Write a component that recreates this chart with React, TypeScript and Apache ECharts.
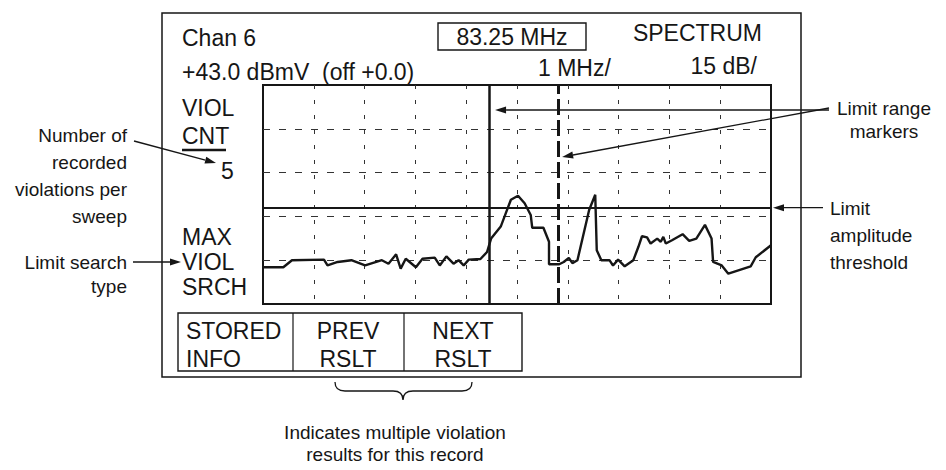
import React, { useEffect, useRef } from "react";
import * as echarts from "echarts";

// Spectrum trace: horizontal position (% of span) and level (dB below the reference level)
const traceX = [0, 4.0, 5.7, 12.0, 12.7, 14.7, 17.4, 20.1, 23.4, 24.7, 26.2, 27.1, 28.1, 30.1, 31.4, 33.8, 34.8, 36.1, 37.5, 38.5, 39.5, 40.5, 42.8, 44.1, 44.9, 46.8, 47.8, 48.8, 50.2, 51.5, 52.7, 53.0, 55.2, 56.3, 56.3, 58.3, 59.2, 60.2, 60.9, 61.9, 64.2, 65.4, 65.7, 66.6, 68.2, 68.9, 69.9, 71.2, 72.9, 73.9, 74.6, 75.6, 76.3, 77.6, 78.3, 78.8, 79.3, 80.6, 82.6, 83.9, 85.3, 87.0, 88.3, 88.6, 90.3, 91.6, 96.0, 97.0, 100];
const traceY = [-62.4, -62.4, -60.0, -59.8, -61.8, -60.6, -60.0, -61.8, -60.0, -61.2, -58.0, -62.9, -59.5, -62.4, -59.5, -59.1, -61.8, -58.7, -61.2, -60.0, -61.8, -59.8, -59.6, -57.2, -52.6, -48.5, -43.9, -39.3, -37.9, -40.5, -44.5, -48.9, -48.9, -53.7, -61.4, -61.4, -60.6, -59.2, -61.0, -60.0, -42.8, -37.6, -56.6, -60.0, -60.0, -61.8, -59.8, -62.1, -60.0, -55.4, -51.8, -52.2, -54.3, -52.6, -53.7, -52.0, -54.3, -53.1, -51.1, -53.4, -52.6, -47.9, -52.6, -60.6, -61.8, -64.6, -62.1, -59.0, -54.9];
const limitThreshold = -42;
const limitMarkers = [44.5, 58.1];
const xMin = 0, xMax = 100, xStep = 10;
const yMin = -75, yMax = 0, yStep = 15;

const headerLeft = ["Chan 6", "+43.0 dBmV  (off +0.0)"];
const headerFreq = "83.25 MHz";
const headerMode = "SPECTRUM";
const scaleLabels = ["1 MHz/", "15 dB/"];
const violLabels = ["VIOL", "CNT"];
const violCount = "5";
const searchLabels = ["MAX", "VIOL", "SRCH"];
const softKeys = [["STORED", "INFO"], ["PREV", "RSLT"], ["NEXT", "RSLT"]];
const noteCount = ["Number of", "recorded", "violations per", "sweep"];
const noteSearch = ["Limit search", "type"];
const noteMarkers = ["Limit range", "markers"];
const noteThreshold = ["Limit", "amplitude", "threshold"];
const noteMultiple = ["Indicates multiple violation", "results for this record"];

const FONT = '"Liberation Sans", Arial, Helvetica, sans-serif';
const INK = "#161616";

echarts.graphic.registerShape(
  "brace",
  echarts.graphic.extendPath("M0 0 Q0 9 10 9 L58 9 Q68 9 68 18 Q68 9 78 9 L127 9 Q137 9 137 0", {})
);

function txt(text: string, x: number, y: number, size: number, align = "left") {
  return {
    type: "text",
    x,
    y,
    silent: true,
    style: {
      text,
      font: `${size}px ${FONT}`,
      fill: INK,
      align,
      textAlign: align,
      verticalAlign: "middle",
      textVerticalAlign: "middle",
    },
  };
}

function arrow(x1: number, y1: number, x2: number, y2: number) {
  const a = Math.atan2(y2 - y1, x2 - x1);
  const L = 11, H = 3.5;
  const bx = x2 - L * Math.cos(a), by = y2 - L * Math.sin(a);
  const px = -Math.sin(a) * H, py = Math.cos(a) * H;
  return [
    { type: "line", silent: true, shape: { x1, y1, x2: bx, y2: by }, style: { stroke: INK, lineWidth: 1.3 } },
    { type: "polygon", silent: true, shape: { points: [[x2, y2], [bx + px, by + py], [bx - px, by - py]] }, style: { fill: INK } },
  ];
}

function rect(x: number, y: number, w: number, h: number, lw = 1.4) {
  return { type: "rect", silent: true, shape: { x, y, width: w, height: h }, style: { fill: "none", stroke: INK, lineWidth: lw } };
}

function seg(x1: number, y1: number, x2: number, y2: number, lw = 1.4) {
  return { type: "line", silent: true, shape: { x1, y1, x2, y2 }, style: { stroke: INK, lineWidth: lw } };
}

export default function App() {
  const ref = useRef<HTMLDivElement>(null);
  useEffect(() => {
    if (!ref.current) return;
    const chart = echarts.init(ref.current, null, { renderer: "svg" });
    chart.setOption({
      animation: false,
      backgroundColor: "#ffffff",
      grid: { left: 263, top: 85, width: 508, height: 219, show: true, borderColor: INK, borderWidth: 2, backgroundColor: "transparent" },
      xAxis: {
        type: "value", min: xMin, max: xMax, interval: xStep,
        axisLine: { show: false }, axisTick: { show: false }, axisLabel: { show: false },
        splitLine: { show: true, showMinLine: false, showMaxLine: false, lineStyle: { type: [4, 11], color: "#333", width: 1 } },
      },
      yAxis: {
        type: "value", min: yMin, max: yMax, interval: yStep,
        axisLine: { show: false }, axisTick: { show: false }, axisLabel: { show: false },
        splitLine: { show: true, showMinLine: false, showMaxLine: false, lineStyle: { type: [7, 9], color: "#333", width: 1 } },
      },
      series: [
        {
          type: "line",
          data: traceX.map((x, i) => [x, traceY[i]]),
          symbol: "none",
          lineStyle: { color: INK, width: 2.4 },
          z: 3,
          markLine: {
            silent: true,
            symbol: "none",
            label: { show: false },
            animation: false,
            data: [
              { yAxis: limitThreshold, lineStyle: { type: "solid", width: 2, color: INK } },
              { xAxis: limitMarkers[0], lineStyle: { type: "solid", width: 2.5, color: INK } },
              { xAxis: limitMarkers[1], lineStyle: { type: [16, 5], width: 3, color: INK } },
            ],
          },
        },
      ],
    });

    const thr = chart.convertToPixel({ gridIndex: 0 }, [xMax, limitThreshold]) as number[];
    const m1 = chart.convertToPixel({ gridIndex: 0 }, [limitMarkers[0], yMax]) as number[];
    const m2 = chart.convertToPixel({ gridIndex: 0 }, [limitMarkers[1], yMax]) as number[];

    const els: any[] = [];
    // instrument screen frame
    els.push(rect(162, 13, 639, 364, 1.5));
    els.push(txt(headerLeft[0], 182, 38, 23));
    els.push(txt(headerLeft[1], 182, 72, 23));
    els.push(rect(438, 23, 148, 27, 1.4));
    els.push(txt(headerFreq, 512, 37, 23, "center"));
    els.push(txt(headerMode, 762, 33, 23, "right"));
    els.push(txt(scaleLabels[0], 538, 68, 23));
    els.push(txt(scaleLabels[1], 757, 66, 23, "right"));
    els.push(txt(violLabels[0], 182, 108, 23));
    els.push(txt(violLabels[1], 182, 136, 23));
    els.push(seg(182, 150, 226, 150, 2.5));
    els.push(txt(violCount, 221, 171, 23));
    searchLabels.forEach((s, i) => els.push(txt(s, 182, 237 + i * 25, 23)));
    // soft keys
    els.push(rect(178, 313, 344, 58, 1.4));
    els.push(seg(293, 313, 293, 371, 1.2));
    els.push(seg(404, 313, 404, 371, 1.2));
    els.push(txt(softKeys[0][0], 186, 331, 23));
    els.push(txt(softKeys[0][1], 186, 359, 23));
    els.push(txt(softKeys[1][0], 348, 331, 23, "center"));
    els.push(txt(softKeys[1][1], 348, 359, 23, "center"));
    els.push(txt(softKeys[2][0], 463, 331, 23, "center"));
    els.push(txt(softKeys[2][1], 463, 359, 23, "center"));
    // annotations
    noteCount.forEach((s, i) => els.push(txt(s, 127, 135 + i * 27, 19, "right")));
    els.push(...arrow(134, 141, 216, 163));
    noteSearch.forEach((s, i) => els.push(txt(s, 127, 262 + i * 24, 19, "right")));
    els.push(...arrow(133, 262, 181, 262));
    noteMarkers.forEach((s, i) => els.push(txt(s, 884, 108 + i * 23, 19, "center")));
    els.push(...arrow(829, 110, m1[0] + 6, 110));
    els.push(...arrow(829, 108, m2[0] + 4, 157));
    noteThreshold.forEach((s, i) => els.push(txt(s, 830, 208 + i * 27, 19)));
    els.push(...arrow(823, thr[1], thr[0] + 2, thr[1]));
    els.push({ type: "brace", silent: true, x: 335, y: 382, style: { fill: "none", stroke: INK, lineWidth: 1.3 } });
    noteMultiple.forEach((s, i) => els.push(txt(s, 395, 432 + i * 22, 19, "center")));

    chart.setOption({ graphic: els });
    return () => chart.dispose();
  }, []);
  return <div ref={ref} style={{ position: "absolute", left: 0, top: 0, width: 946, height: 470 }} />;
}
